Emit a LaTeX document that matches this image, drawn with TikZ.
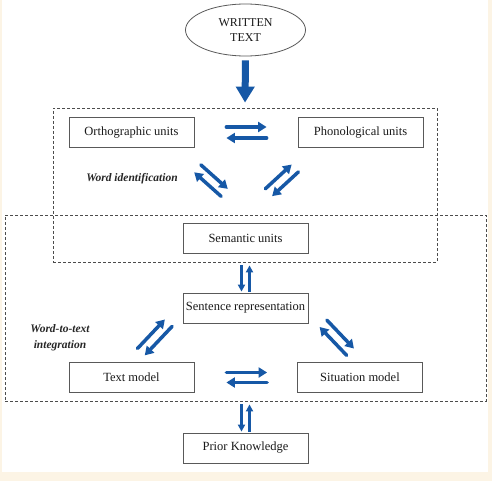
\documentclass[tikz,border=0pt]{standalone}
\usepackage{fontspec}
\setmainfont{Liberation Serif}
\usetikzlibrary{arrows.meta,calc,shapes.geometric}

\definecolor{flowblue}{RGB}{22,88,166}
\definecolor{paper}{RGB}{252,244,229}

\tikzset{
  unit/.style={draw=black!65, line width=0.8pt, fill=white, minimum width=125pt, minimum height=30pt,
    inner sep=0pt, font=\fontsize{12.5}{14}\selectfont, text=black!90},
  stage/.style={draw=black!70, line width=0.8pt, dash pattern=on 3pt off 2pt, inner sep=0pt},
  flow/.style={flowblue, line width=3.5pt, line cap=round, -{Triangle[width=10pt,length=8.5pt]}},
  thinflow/.style={flowblue, line width=2.2pt, -{Triangle[width=7pt,length=7pt]}},
  tag/.style={font=\fontsize{11.5}{16}\selectfont\bfseries\itshape, text=black!85, align=center}
}

%%% two arrows side by side, one each way: [style]{from}{to}{shorten at from}{shorten at to}{half gap}
\newcommand\twoway[6][flow]{%
  \draw[#1, shorten <=#4, shorten >=#5] ($(#2)!#6!90:(#3)$) -- ($(#3)!#6!-90:(#2)$);
  \draw[#1, shorten <=#5, shorten >=#4] ($(#3)!#6!90:(#2)$) -- ($(#2)!#6!-90:(#3)$);
}

\begin{document}
\begin{tikzpicture}[x=1pt, y=-1pt] %%% y grows downwards, one unit per pixel of the layout
  \useasboundingbox (0,0) rectangle (492,481);
  \fill[paper] (0,0) rectangle (492,481);
  \fill[white] (2,0) rectangle (488,472);

  %%% the two stages
  \node[stage, minimum width=384pt, minimum height=154pt] (wordid) at (245,185) {};
  \node[stage, minimum width=481pt, minimum height=186pt] (integ) at (245.5,308) {};

  %%% input
  \node[ellipse, draw=black!65, line width=0.8pt, fill=white, minimum width=120pt, minimum height=52pt,
    inner sep=0pt, align=center, font=\fontsize{12}{15}\selectfont, text=black!90] (wt) at (245.5,30) {WRITTEN\\TEXT};

  %%% representation boxes
  \foreach \n/\x/\y/\t in {orth/131.5/132.5/Orthographic units, phon/360.5/132.5/Phonological units,
      sem/245.5/238/Semantic units, sent/245.5/308/Sentence representation,
      textm/131.5/377.5/Text model, sit/360/377.5/Situation model, prior/245.5/448/Prior Knowledge}
    \node[unit] (\n) at (\x,\y) {\t};

  %%% stage labels
  \node[tag] (widlabel) at (132,179) {Word identification};
  \node[tag] (wtilabel) at (60,338) {Word-to-text\\integration};

  %%% input arrow
  \draw[flowblue, line width=7pt, -{Triangle[width=18pt,length=16pt]}, shorten <=4pt, shorten >=5pt]
    (wt.south) -- (wordid.north);

  %%% word identification
  \twoway{orth.east}{phon.west}{32pt}{31pt}{5.5pt}
  \twoway{[xshift=-20pt]orth.south east}{[xshift=12.5pt]sem.north}{31pt}{45pt}{5pt}
  \twoway{[xshift=-9.5pt]sem.north}{[xshift=19.5pt]phon.south west}{44.5pt}{30pt}{5pt}

  %%% word-to-text integration
  \twoway[thinflow]{sem.south}{sent.north}{12pt}{1pt}{-4pt}
  \twoway{textm.north}{sent.west}{14pt}{20.5pt}{5pt}
  \twoway{sent.east}{sit.north}{21.5pt}{14pt}{5pt}
  \twoway{textm.east}{sit.west}{32pt}{30pt}{5pt}
  \twoway[thinflow]{integ.south}{prior.north}{3pt}{1pt}{-4pt}
\end{tikzpicture}
\end{document}
